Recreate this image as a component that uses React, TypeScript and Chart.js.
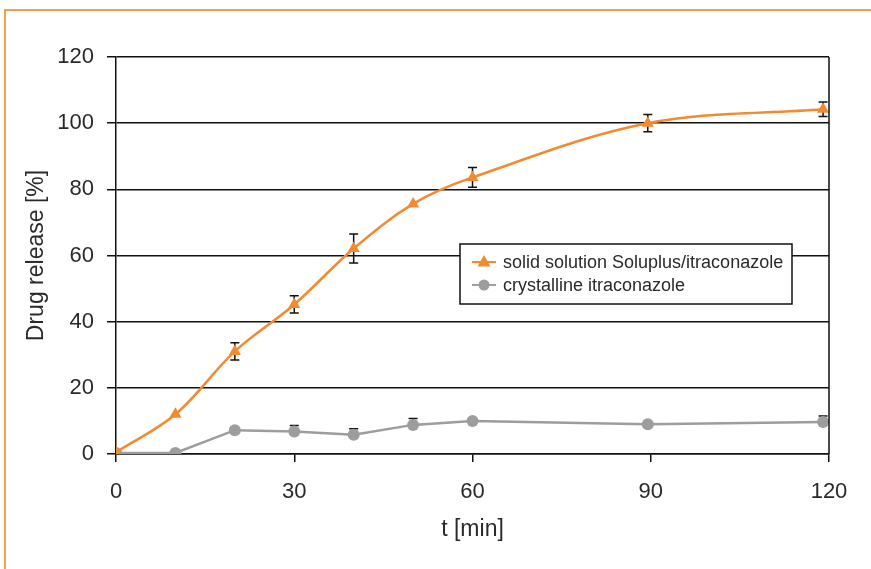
import React, { useEffect, useRef } from "react";
import { Chart, registerables } from "chart.js";

Chart.register(...registerables);

const times = [0, 10, 20, 30, 40, 50, 60, 89.5, 119];
const solidSolution = [0.5, 12, 31, 45.2, 62.1, 75.6, 83.6, 100, 104.2];
const solidSolutionErr = [0, 0, 2.6, 2.6, 4.4, 0, 3, 2.6, 2.2];
const crystalline = [0.3, 0.3, 7.2, 6.8, 5.8, 8.8, 10, 9, 9.7];
const crystallineErrUp = [0, 0, 0, 1.8, 1.8, 1.9, 0, 0, 1.8];
const xTicks = [0, 30, 60, 90, 120];
const yTicks = [0, 20, 40, 60, 80, 100, 120];
const seriesNames = ["solid solution Soluplus/itraconazole", "crystalline itraconazole"];

const ORANGE = "#f28a30";
const GRAY = "#9d9d9d";
const FONT = "'Liberation Sans', Arial, Helvetica, sans-serif";
const TEXT = "#2a2a2a";

const errorBarPlugin = {
  id: "errorBars",
  beforeDatasetsDraw(chart: any) {
    const { ctx, scales } = chart;
    const xs = scales.x;
    const ys = scales.y;
    chart.data.datasets.forEach((ds: any) => {
      const up: number[] = ds.errUp;
      const down: number[] = ds.errDown;
      if (!up) return;
      ctx.save();
      ctx.strokeStyle = "#111";
      ctx.lineWidth = 1.5;
      ds.data.forEach((pt: any, i: number) => {
        const eu = up[i] || 0;
        const ed = down ? down[i] || 0 : 0;
        if (!eu && !ed) return;
        const x = xs.getPixelForValue(pt.x);
        const yTop = ys.getPixelForValue(pt.y + eu);
        const yBot = ys.getPixelForValue(pt.y - ed);
        ctx.beginPath();
        ctx.moveTo(x, yTop);
        ctx.lineTo(x, yBot);
        if (eu) {
          ctx.moveTo(x - 4.5, yTop);
          ctx.lineTo(x + 4.5, yTop);
        }
        if (ed) {
          ctx.moveTo(x - 4.5, yBot);
          ctx.lineTo(x + 4.5, yBot);
        }
        ctx.stroke();
      });
      ctx.restore();
    });
  },
};

const frameAndLegendPlugin = {
  id: "frameAndLegend",
  afterDraw(chart: any) {
    const { ctx, chartArea } = chart;
    ctx.save();
    ctx.strokeStyle = "#111";
    ctx.lineWidth = 1.5;
    ctx.beginPath();
    ctx.moveTo(chartArea.right, chartArea.top);
    ctx.lineTo(chartArea.right, chartArea.bottom);
    ctx.stroke();

    const bx = chartArea.left + 344;
    const by = chartArea.top + 187;
    const bw = 332;
    const bh = 60;
    ctx.fillStyle = "#ffffff";
    ctx.fillRect(bx, by, bw, bh);
    ctx.strokeStyle = "#111";
    ctx.lineWidth = 1.5;
    ctx.strokeRect(bx, by, bw, bh);

    const rows = [
      { color: ORANGE, style: "triangle", y: by + 18 },
      { color: GRAY, style: "circle", y: by + 41 },
    ];
    rows.forEach((r, i) => {
      const lx1 = bx + 12;
      const lx2 = bx + 36;
      const cx = (lx1 + lx2) / 2;
      ctx.strokeStyle = r.color;
      ctx.lineWidth = 2;
      ctx.beginPath();
      ctx.moveTo(lx1, r.y);
      ctx.lineTo(lx2, r.y);
      ctx.stroke();
      ctx.fillStyle = r.color;
      ctx.beginPath();
      if (r.style === "triangle") {
        ctx.moveTo(cx, r.y - 7);
        ctx.lineTo(cx + 6.5, r.y + 4.5);
        ctx.lineTo(cx - 6.5, r.y + 4.5);
        ctx.closePath();
      } else {
        ctx.arc(cx, r.y, 5.5, 0, Math.PI * 2);
      }
      ctx.fill();
      ctx.fillStyle = TEXT;
      ctx.font = `18px ${FONT}`;
      ctx.textBaseline = "middle";
      ctx.textAlign = "left";
      ctx.fillText(seriesNames[i], bx + 43, r.y + 1);
    });
    ctx.restore();
  },
};

export default function App() {
  const canvasRef = useRef<HTMLCanvasElement | null>(null);

  useEffect(() => {
    document.body.style.margin = "0";
    const canvas = canvasRef.current;
    if (!canvas) return;
    const chart = new Chart(canvas, {
      type: "line",
      data: {
        datasets: [
          {
            label: seriesNames[0],
            data: times.map((t, i) => ({ x: t, y: solidSolution[i] })),
            borderColor: ORANGE,
            backgroundColor: ORANGE,
            borderWidth: 2.5,
            pointStyle: "triangle",
            pointRadius: 7,
            pointBorderWidth: 0,
            tension: 0.35,
            errUp: solidSolutionErr,
            errDown: solidSolutionErr,
          } as any,
          {
            label: seriesNames[1],
            data: times.map((t, i) => ({ x: t, y: crystalline[i] })),
            borderColor: GRAY,
            backgroundColor: GRAY,
            borderWidth: 2.5,
            pointStyle: "circle",
            pointRadius: 6,
            pointBorderWidth: 0,
            tension: 0,
            errUp: crystallineErrUp,
          } as any,
        ],
      },
      options: {
        responsive: false,
        animation: false,
        layout: { padding: { top: 57, right: 42, left: 0, bottom: 0 } },
        plugins: {
          legend: { display: false },
          tooltip: { enabled: false },
        },
        scales: {
          x: {
            type: "linear",
            min: 0,
            max: 120,
            afterFit: (scale: any) => {
              scale.height = 115;
            },
            afterBuildTicks: (scale: any) => {
              scale.ticks = xTicks.map((v) => ({ value: v }));
            },
            grid: {
              display: true,
              drawOnChartArea: false,
              drawTicks: true,
              tickLength: 8,
              color: "#111",
              lineWidth: 1.5,
            },
            border: { display: true, color: "#111", width: 1.5 },
            ticks: {
              padding: 17,
              color: TEXT,
              font: { family: FONT, size: 22 },
              maxRotation: 0,
            },
            title: {
              display: true,
              text: "t [min]",
              color: TEXT,
              font: { family: FONT, size: 23 },
              padding: { top: 0, bottom: 26 },
            },
          },
          y: {
            type: "linear",
            min: 0,
            max: 120,
            afterFit: (scale: any) => {
              scale.width = 116;
            },
            afterBuildTicks: (scale: any) => {
              scale.ticks = yTicks.map((v) => ({ value: v }));
            },
            grid: {
              display: true,
              drawOnChartArea: true,
              drawTicks: true,
              tickLength: 9,
              color: "#111",
              lineWidth: 1.5,
            },
            border: { display: true, color: "#111", width: 1.5 },
            ticks: {
              padding: 13,
              color: TEXT,
              font: { family: FONT, size: 22 },
            },
            title: {
              display: true,
              text: "Drug release [%]",
              color: TEXT,
              font: { family: FONT, size: 23 },
              padding: { top: 23, bottom: 0 },
            },
          },
        },
      },
      plugins: [errorBarPlugin, frameAndLegendPlugin],
    });
    return () => chart.destroy();
  }, []);

  return (
    <div style={{ position: "absolute", left: 0, top: 0, width: 871, height: 569, background: "#fff" }}>
      <canvas ref={canvasRef} width={871} height={569} style={{ display: "block" }} />
      <div
        style={{
          position: "absolute",
          left: 4,
          top: 9,
          width: 867,
          height: 560,
          borderTop: "2px solid #f5a050",
          borderLeft: "2px solid #f5a050",
          boxSizing: "border-box",
          pointerEvents: "none",
        }}
      />
    </div>
  );
}
